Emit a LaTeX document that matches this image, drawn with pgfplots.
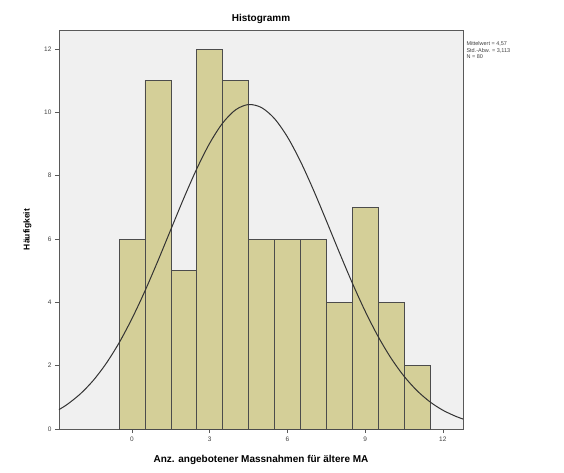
\documentclass[border=0pt]{standalone}
\usepackage{pgfplots}
\pgfplotsset{compat=1.18}
\usepackage{fontspec}
\setmainfont{Liberation Sans}
\definecolor{barfill}{RGB}{212,207,152}
\definecolor{plotbg}{RGB}{240,240,240}
\begin{document}
\begin{tikzpicture}
\path (-59pt,-43pt) rectangle (505pt,429pt);
\begin{axis}[
    scale only axis,
    width=404pt, height=399pt,
    xmin=-2.82, xmax=12.78,
    ymin=0, ymax=12.6,
    xtick={0,3,6,9,12},
    ytick={0,2,4,6,8,10,12},
    xtick pos=bottom, ytick pos=left,
    tick align=outside,
    major tick length=4pt,
    tick style={gray!70!black, line width=0.6pt},
    axis line style={gray!70!black, line width=0.8pt},
    axis background/.style={fill=plotbg},
    tick label style={font=\fontsize{6.5}{7}\selectfont, text=black!75},
    /pgf/number format/assume math mode=true,
    title={\textbf{Histogramm}},
    title style={font=\fontsize{10}{11}\selectfont, yshift=-3pt},
    xlabel={\textbf{Anz. angebotener Massnahmen für ältere MA}},
    ylabel={\textbf{Häufigkeit}},
    xlabel style={font=\fontsize{10}{11}\selectfont, yshift=-7pt},
    ylabel style={font=\fontsize{8.5}{10}\selectfont, yshift=6pt},
    clip=false,
]
\addplot[ybar interval, fill=barfill, draw=black!70, line width=0.7pt] coordinates {
    (-0.5,6) (0.5,11) (1.5,5) (2.5,12) (3.5,11) (4.5,6)
    (5.5,6) (6.5,6) (7.5,4) (8.5,7) (9.5,4) (10.5,2) (11.5,2)
};
\addplot[smooth, black!80, line width=1pt] coordinates {
    (-2.82,0.613) (-2.5,0.778) (-2,1.106) (-1.5,1.531) (-1,2.068) (-0.5,2.721)
    (0,3.490) (0.5,4.360) (1,5.311) (1.5,6.303) (2,7.290) (2.5,8.217)
    (3,9.026) (3.5,9.662) (4,10.08) (4.5,10.247) (5,10.15) (5.5,9.803)
    (6,9.224) (6.5,8.458) (7,7.558) (7.5,6.583) (8,5.586) (8.5,4.620)
    (9,3.724) (9.5,2.925) (10,2.239) (10.5,1.670) (11,1.214) (11.5,0.860)
    (12,0.594) (12.5,0.400) (12.78,0.315)
};
\node[anchor=north west, align=left, font=\fontsize{5.5}{6.5}\selectfont, text=black!75]
    at (rel axis cs:1,0.98) {Mittelwert = 4,57\\Std.-Abw. = 3,113\\N = 80};
\end{axis}
\end{tikzpicture}
\end{document}
